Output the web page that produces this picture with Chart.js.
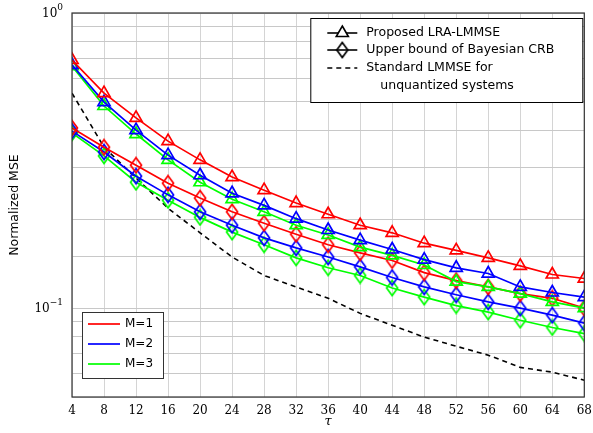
<!DOCTYPE html>
<html>
<head>
<meta charset="utf-8">
<script src="https://cdn.jsdelivr.net/npm/chart.js@4.4.1/dist/chart.umd.min.js"></script>
<style>
  html, body { margin: 0; padding: 0; background: #fff; }
</style>
</head>
<body>
<canvas id="chart" width="593" height="433"></canvas>
<script>
// x values (tau)
const tau = [4, 8, 12, 16, 20, 24, 28, 32, 36, 40, 44, 48, 52, 56, 60, 64, 68];

// Proposed LRA-LMMSE (triangles)
const lraM1 = [0.693, 0.535, 0.441, 0.368, 0.318, 0.278, 0.251, 0.227, 0.208, 0.191, 0.180, 0.166, 0.157, 0.148, 0.139, 0.130, 0.126];
const lraM2 = [0.667, 0.499, 0.401, 0.330, 0.282, 0.245, 0.223, 0.201, 0.184, 0.170, 0.158, 0.146, 0.137, 0.131, 0.118, 0.113, 0.109];
const lraM3 = [0.661, 0.484, 0.389, 0.318, 0.267, 0.234, 0.212, 0.191, 0.177, 0.161, 0.151, 0.140, 0.123, 0.118, 0.112, 0.105, 0.100];

// Upper bound of Bayesian CRB (diamonds)
const crbM1 = [0.408, 0.351, 0.305, 0.265, 0.236, 0.212, 0.194, 0.178, 0.164, 0.154, 0.145, 0.132, 0.124, 0.118, 0.112, 0.108, 0.100];
const crbM2 = [0.398, 0.338, 0.280, 0.242, 0.212, 0.191, 0.173, 0.160, 0.149, 0.138, 0.127, 0.118, 0.111, 0.105, 0.100, 0.0947, 0.089];
const crbM3 = [0.392, 0.328, 0.267, 0.232, 0.203, 0.181, 0.164, 0.148, 0.137, 0.129, 0.117, 0.109, 0.102, 0.097, 0.091, 0.086, 0.082];

// Standard LMMSE for unquantized systems (dashed)
const lmmse = [0.535, 0.351, 0.276, 0.218, 0.180, 0.149, 0.129, 0.118, 0.108, 0.096, 0.0875, 0.0798, 0.0743, 0.0693, 0.063, 0.0607, 0.057];

const groupLabels = ["M=1", "M=2", "M=3"];
const groupColors = ["#ff0000", "#0000ff", "#00ff00"];
const methodLabels = ["Proposed LRA-LMMSE", "Upper bound of Bayesian CRB", "Standard LMMSE for", "unquantized systems"];
// labelled y ticks: 10^0 and 10^-1
const yTickValues = [1, 0.1];
const yTickExps = ["0", "\u22121"];

const serif = "'DejaVu Serif', serif";
const sans = "'DejaVu Sans', sans-serif";

// tall hollow diamond marker, like the pgfplots one
function diamond(color) {
  const c = document.createElement("canvas");
  c.width = 14;
  c.height = 18;
  const g = c.getContext("2d");
  g.strokeStyle = color;
  g.lineWidth = 1.7;
  g.beginPath();
  g.moveTo(7, 1.5);
  g.lineTo(12.5, 9);
  g.lineTo(7, 16.5);
  g.lineTo(1.5, 9);
  g.closePath();
  g.stroke();
  return c;
}

function series(values, color, style) {
  return {
    data: values.map((v, i) => ({ x: tau[i], y: v })),
    borderColor: color,
    borderWidth: 1.7,
    pointStyle: style === "tri" ? "triangle" : diamond(color),
    pointRadius: 7,
    pointBorderWidth: 1.7,
    pointBorderColor: color,
    pointBackgroundColor: "rgba(0,0,0,0)",
    tension: 0
  };
}

const lra = [lraM1, lraM2, lraM3];
const crb = [crbM1, crbM2, crbM3];
const datasets = [];
lra.forEach((vals, i) => datasets.push(series(vals, groupColors[i], "tri")));
crb.forEach((vals, i) => datasets.push(series(vals, groupColors[i], "dia")));
datasets.push({
  data: lmmse.map((v, i) => ({ x: tau[i], y: v })),
  borderColor: "#000",
  borderWidth: 1.6,
  borderDash: [5, 4],
  pointRadius: 0,
  tension: 0
});

// frame, y tick labels with exponents, and the two legend boxes
const boxes = {
  id: "boxes",
  afterDraw(chart) {
    const ctx = chart.ctx;
    const a = chart.chartArea;
    const ys = chart.scales.y;
    ctx.save();
    ctx.strokeStyle = "#333";
    ctx.lineWidth = 1.2;
    ctx.strokeRect(a.left, a.top, a.right - a.left, a.bottom - a.top);

    // 10^k labels
    ctx.fillStyle = "#000";
    ctx.textAlign = "right";
    ctx.textBaseline = "middle";
    yTickValues.forEach((v, i) => {
      const y = ys.getPixelForValue(v);
      ctx.font = "9px " + serif;
      const ex = a.left - 9;
      const w = ctx.measureText(yTickExps[i]).width;
      ctx.fillText(yTickExps[i], ex, y - 5);
      ctx.font = "12px " + serif;
      ctx.fillText("10", ex - w, y + 1);
    });

    // method legend, top right
    const bx = a.right - 274, by = a.top + 5, bw = 272, bh = 84;
    ctx.fillStyle = "#fff";
    ctx.fillRect(bx, by, bw, bh);
    ctx.strokeStyle = "#000";
    ctx.lineWidth = 1;
    ctx.strokeRect(bx + 0.5, by + 0.5, bw, bh);
    ctx.font = "12.5px " + sans;
    ctx.textBaseline = "middle";
    ctx.textAlign = "left";
    const rows = [by + 15, by + 32, by + 50, by + 68];
    const lx0 = bx + 17, lx1 = bx + 47, tx = bx + 56;
    for (let r = 0; r < 3; r++) {
      ctx.strokeStyle = "#000";
      ctx.lineWidth = 1.6;
      ctx.setLineDash(r === 2 ? [5, 4] : []);
      ctx.beginPath();
      ctx.moveTo(lx0, rows[r]);
      ctx.lineTo(lx1, rows[r]);
      ctx.stroke();
      ctx.setLineDash([]);
      if (r === 0) {
        ctx.fillStyle = "#fff";
        Chart.helpers.drawPoint(ctx, { pointStyle: "triangle", radius: 7, borderWidth: 1.7 }, (lx0 + lx1) / 2, rows[r]);
      } else if (r === 1) {
        const d = diamond("#000");
        ctx.drawImage(d, (lx0 + lx1) / 2 - 7, rows[r] - 9);
      }
      ctx.fillStyle = "#000";
      ctx.fillText(methodLabels[r], tx, rows[r]);
    }
    ctx.fillText(methodLabels[3], tx + 14, rows[3]);

    // M legend, bottom left
    const gx = a.left + 10, gy = a.bottom - 85, gw = 81, gh = 66;
    ctx.fillStyle = "#fff";
    ctx.fillRect(gx, gy, gw, gh);
    ctx.strokeStyle = "#333";
    ctx.lineWidth = 1;
    ctx.strokeRect(gx + 0.5, gy + 0.5, gw, gh);
    ctx.font = "12px " + sans;
    groupLabels.forEach((lab, i) => {
      const yy = gy + 12 + i * 20;
      ctx.strokeStyle = groupColors[i];
      ctx.lineWidth = 1.7;
      ctx.beginPath();
      ctx.moveTo(gx + 6, yy);
      ctx.lineTo(gx + 38, yy);
      ctx.stroke();
      ctx.fillStyle = "#000";
      ctx.fillText(lab, gx + 43, yy);
    });
    ctx.restore();
  }
};

new Chart(document.getElementById("chart"), {
  type: "line",
  data: { datasets: datasets },
  options: {
    responsive: false,
    animation: false,
    layout: { padding: { left: 0, right: 8, top: 13, bottom: 0 } },
    plugins: { legend: { display: false }, tooltip: { enabled: false } },
    scales: {
      x: {
        type: "linear",
        min: 4,
        max: 68,
        ticks: { stepSize: 4, color: "#000", font: { family: serif, size: 12 }, padding: 7, maxRotation: 0 },
        grid: { color: "#d4d4d4", lineWidth: 1, drawTicks: false },
        border: { display: false },
        title: { display: true, text: "\u03C4", color: "#000", font: { family: serif, size: 13, style: "italic" }, padding: { top: 2 } },
        afterFit(s) { s.height = 36; s.paddingLeft = 0; s.paddingRight = 0; }
      },
      y: {
        type: "logarithmic",
        min: 0.05,
        max: 1,
        ticks: {
          autoSkip: false,
          color: "#000",
          font: { family: serif, size: 12 },
          padding: 6,
          callback() { return ""; }
        },
        grid: { color: "#c8c8c8", lineWidth: 1, drawTicks: false },
        border: { display: false },
        title: { display: true, text: "Normalized MSE", color: "#000", font: { family: sans, size: 12.5 }, padding: { top: 7, bottom: 0 } },
        afterFit(s) { s.width = 72; s.paddingTop = 0; s.paddingBottom = 0; }
      }
    }
  },
  plugins: [boxes]
});
</script>
</body>
</html>
